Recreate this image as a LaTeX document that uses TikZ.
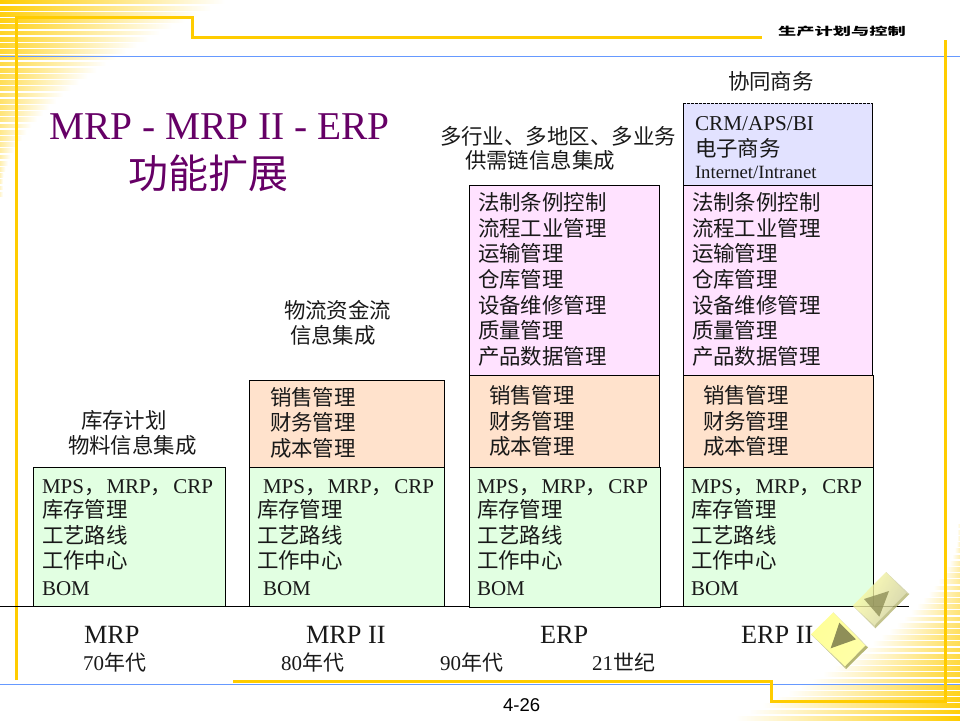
\documentclass[tikz,border=0pt]{standalone}
\usepackage{fontspec}
\setmainfont{Liberation Serif}
\newfontfamily\cjk{Noto Sans CJK SC}
\newfontfamily\arialf{Liberation Sans}
\usetikzlibrary{shadings}
\definecolor{goldl}{HTML}{FFCC00}
\definecolor{bluel}{HTML}{6699FF}
\definecolor{titlec}{HTML}{660066}
\definecolor{greenb}{HTML}{E2FFE2}
\definecolor{orangeb}{HTML}{FFE2CC}
\definecolor{pinkb}{HTML}{FFE2FF}
\definecolor{blueb}{HTML}{E2E2FF}
\definecolor{btn}{HTML}{FFFF99}
\definecolor{btnd}{HTML}{B5B572}
\definecolor{tri}{HTML}{8F8F58}
\newcommand{\C}[1]{{\cjk #1}}
\tikzset{
  txt/.style={anchor=base west,inner sep=0pt,outer sep=0pt,font=\fontsize{21.45}{25}\selectfont,text=black!90},
  lat/.style={txt,font=\fontsize{21}{25}\selectfont},
  era/.style={txt,font=\fontsize{26.3}{30}\selectfont},
  age/.style={txt,font=\fontsize{21}{25}\selectfont},
  boxn/.style={draw=black,line width=1pt,inner sep=0pt,outer sep=0pt,rectangle},
  goldline/.style={draw=goldl,line width=3pt,line join=miter},
  blueline/.style={draw=bluel,line width=1pt}
}
\newcommand{\boxat}[6]{\node[boxn,fill=#2,minimum width={(#5-#3)*1pt},minimum height={(#6-#4)*1pt}] (#1) at ({(#3+#5)/2},{(#4+#6)/2}) {};}
\newcommand{\greentext}[4]{%
  \node[lat] (#1-a) at (#3,493) {MPS\C{，}\kern1.5pt MRP\C{，}\kern1.5pt CRP};
  \node[txt] (#1-b) at (#2,517) {\C{库存管理}};
  \node[txt] (#1-c) at (#2,543) {\C{工艺路线}};
  \node[txt] (#1-d) at (#2,568) {\C{工作中心}};
  \node[lat] (#1-e) at (#4,595) {BOM};
}
\newcommand{\orangetext}[5]{%
  \node[txt] (#1-a) at (#2,#3) {\C{销售管理}};
  \node[txt] (#1-b) at (#2,#4) {\C{财务管理}};
  \node[txt] (#1-c) at (#2,#5) {\C{成本管理}};
}
\newcommand{\pinktext}[2]{%
  \node[txt] (#1-a) at (#2,210) {\C{法制条例控制}};
  \node[txt] (#1-b) at (#2,236) {\C{流程工业管理}};
  \node[txt] (#1-c) at (#2,261) {\C{运输管理}};
  \node[txt] (#1-d) at (#2,287) {\C{仓库管理}};
  \node[txt] (#1-e) at (#2,313) {\C{设备维修管理}};
  \node[txt] (#1-f) at (#2,338) {\C{质量管理}};
  \node[txt] (#1-g) at (#2,364) {\C{产品数据管理}};
}
\begin{document}
\begin{tikzpicture}[x=1pt,y=-1pt]
\useasboundingbox (0,0) rectangle (960,720);
\clip (0,0) rectangle (960,720);
% corner stripes
\foreach \i in {0,...,31}{
  \pgfmathsetmacro{\d}{\i*6.2}
  \pgfmathsetmacro{\len}{max(3,225*(1-\d/198)^2)}
  \pgfmathtruncatemacro{\p}{100-0.42*\d}
  \path[left color=goldl!\p!white,middle color=goldl!\p!white!62!white,right color=white,draw=none] (0,\d) rectangle (\len,\d+3.8);
  \path[right color=goldl!\p!white,middle color=goldl!\p!white!62!white,left color=white,draw=none] (960-\len,720-\d) rectangle (960,720-\d-3.8);
}
% frame
\draw[blueline] (0,56.5) -- (960,56.5);
\draw[blueline] (0,684.5) -- (960,684.5);
\draw[goldline] (16,680) -- (16,17) -- (192.5,17) -- (192.5,37) -- (762,37);
\draw[goldline] (945,40) -- (945,701) -- (771.5,701) -- (771.5,681) -- (233,681);
\node[inner sep=0pt] (hdr) at (842,31) {\scalebox{1.25}[0.75]{\fontsize{14.6}{16}\cjk\bfseries\selectfont 生产计划与控制}};
% title
\node[anchor=base west,inner sep=0pt,text=titlec,font=\fontsize{39.4}{42}\selectfont] (title1) at (49,139) {MRP - MRP II - ERP};
\node[anchor=base west,inner sep=0pt,text=titlec,font=\fontsize{40}{44}\selectfont] (title2) at (128,188) {\C{功能扩展}};
% axis
\coordinate (axisL) at (0,606.5);
\coordinate (axisR) at (909,606.5);
\draw[black,line width=1pt] (axisL) -- (axisR);
% boxes
\boxat{g1}{greenb}{33}{467}{225}{606}
\boxat{o2}{orangeb}{249}{380}{444}{467}
\boxat{g2}{greenb}{249}{467}{444}{606}
\boxat{p3}{pinkb}{469}{185}{659}{375}
\boxat{o3}{orangeb}{469}{375}{659}{467}
\boxat{g3}{greenb}{469}{467}{660}{607}
\node[inner sep=0pt,outer sep=0pt,fill=blueb,minimum width=189pt,minimum height=82pt] (b4) at (777.5,144) {};
\draw[black,line width=1pt] (b4.north west) -- (b4.south west);
\draw[black,line width=1pt] (b4.north east) -- (b4.south east);
\draw[black,line width=1pt,dash pattern=on 2.5pt off 1.5pt] (b4.north west) -- (b4.north east);
\boxat{p4}{pinkb}{683}{185}{872}{375}
\boxat{o4}{orangeb}{683}{375}{873}{467}
\boxat{g4}{greenb}{683}{467}{873}{606}
% box text
\greentext{t1}{42}{42}{42}
\greentext{t2}{257}{263}{263}
\greentext{t3}{477}{477}{477}
\greentext{t4}{691}{691}{691}
\orangetext{t5}{270}{405}{430}{456}
\orangetext{t6}{489}{403}{429}{454}
\orangetext{t7}{703}{403}{429}{454}
\pinktext{t8}{478}
\pinktext{t9}{692}
\node[txt,font=\fontsize{21.2}{25}\selectfont] (c1) at (695,130) {CRM/APS/BI};
\node[txt] (c2) at (695,156) {\C{电子商务}};
\node[txt,font=\fontsize{18.7}{22}\selectfont] (c3) at (695,178) {Internet/Intranet};
% group labels
\node[txt] (l1) at (728,89) {\C{协同商务}};
\node[txt] (l2) at (440,144) {\C{多行业、多地区、多业务}};
\node[txt] (l3) at (465,168) {\C{供需链信息集成}};
\node[txt] (l4) at (284,318) {\C{物流资金流}};
\node[txt] (l5) at (290,343) {\C{信息集成}};
\node[txt] (l6) at (81,428) {\C{库存计划}};
\node[txt] (l7) at (68,453) {\C{物料信息集成}};
% eras
\node[era] (e1) at (84,643) {MRP};
\node[era] (e2) at (306,643) {MRP II};
\node[era] (e3) at (540,643) {ERP};
\node[era] (e4) at (741,643) {ERP II};
\node[age] (a1) at (83,670) {70\C{年代}};
\node[age] (a2) at (281,670) {80\C{年代}};
\node[age] (a3) at (440,670) {90\C{年代}};
\node[age] (a4) at (592,670) {21\C{世纪}};
\node[anchor=base west,inner sep=0pt,text=black,font=\arialf\fontsize{18.5}{20}\selectfont] (pg) at (503,711) {4-26};
% upper button (translucent over the box corner)
\begin{scope}[fill opacity=.8]
\shade[left color=btn!90!white,right color=btnd!70!white,shading angle=60] (886,572) -- (906.5,593) -- (874.5,625.5) -- (852.7,605.7) -- cycle;
\fill[btnd] (909.3,594) -- (875.3,628.3) -- (874.5,625.5) -- (906.5,593) -- cycle;
\fill[btnd!70!white] (886,572) -- (909.3,594) -- (906.5,593) -- cycle;
\fill[btnd!80!white] (875.3,628.3) -- (852.7,605.7) -- (874.5,625.5) -- cycle;
\fill[tri] (889,591) -- (864,599) -- (879.3,616.7) -- cycle;
\end{scope}
% lower button
\shade[left color=btn,right color=btn!85!white,shading angle=60] (833.3,612.3) -- (865.5,645.5) -- (845,666.5) -- (811,634.3) -- cycle;
\fill[btnd] (868,647.3) -- (846,669) -- (845,666.5) -- (865.5,645.5) -- cycle;
\fill[btnd!60!white] (833.3,612.3) -- (868,647.3) -- (865.5,645.5) -- cycle;
\fill[btnd!80!white] (846,669) -- (811,634.3) -- (845,666.5) -- cycle;
\fill[tri] (839.3,622.7) -- (856,639.3) -- (830.7,648.3) -- cycle;
\end{tikzpicture}
\end{document}
